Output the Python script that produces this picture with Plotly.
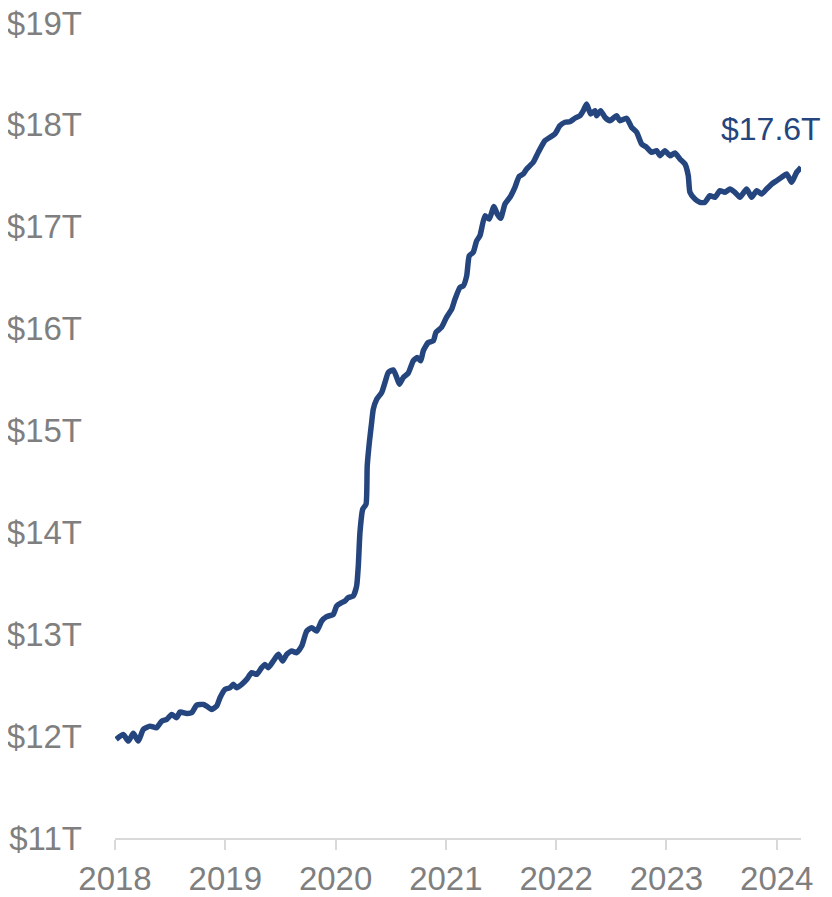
import plotly.graph_objects as go

# Decimal-year positions
years = [
    2018.01, 2018.075, 2018.121, 2018.166, 2018.211, 2018.257, 2018.317, 2018.378, 2018.423, 2018.469,
    2018.514, 2018.559, 2018.589, 2018.650, 2018.695, 2018.741, 2018.801, 2018.831, 2018.877, 2018.922,
    2018.952, 2018.997, 2019.043, 2019.073, 2019.103, 2019.149, 2019.194, 2019.239, 2019.285, 2019.330,
    2019.360, 2019.390, 2019.435, 2019.481, 2019.520, 2019.557, 2019.602, 2019.647, 2019.693, 2019.738,
    2019.783, 2019.829, 2019.874, 2019.919, 2019.979, 2020.010, 2020.055, 2020.085, 2020.115, 2020.160,
    2020.191, 2020.206, 2020.221, 2020.246, 2020.276, 2020.287, 2020.306, 2020.327, 2020.342, 2020.373,
    2020.418, 2020.448, 2020.478, 2020.523, 2020.554, 2020.578, 2020.614, 2020.659, 2020.704, 2020.741,
    2020.772, 2020.795, 2020.840, 2020.886, 2020.910, 2020.962, 2021.007, 2021.053, 2021.083, 2021.128,
    2021.158, 2021.189, 2021.212, 2021.248, 2021.279, 2021.309, 2021.354, 2021.393, 2021.436, 2021.466,
    2021.497, 2021.536, 2021.581, 2021.626, 2021.665, 2021.702, 2021.733, 2021.792, 2021.838, 2021.898,
    2021.944, 2021.989, 2022.034, 2022.080, 2022.125, 2022.170, 2022.216, 2022.246, 2022.276, 2022.313,
    2022.352, 2022.367, 2022.403, 2022.442, 2022.488, 2022.548, 2022.578, 2022.639, 2022.684, 2022.730,
    2022.775, 2022.820, 2022.866, 2022.911, 2022.941, 2022.986, 2023.032, 2023.077, 2023.122, 2023.168,
    2023.198, 2023.213, 2023.258, 2023.304, 2023.349, 2023.394, 2023.440, 2023.485, 2023.530, 2023.576,
    2023.621, 2023.666, 2023.727, 2023.772, 2023.818, 2023.863, 2023.908, 2023.954, 2023.999, 2024.044,
    2024.090, 2024.135, 2024.180, 2024.220,
]

# Deposits, trillions of dollars
deposits = [
    11.968, 12.017, 11.951, 12.027, 11.951, 12.066, 12.098, 12.083, 12.147, 12.164,
    12.213, 12.181, 12.236, 12.223, 12.230, 12.305, 12.311, 12.295, 12.262, 12.295,
    12.377, 12.459, 12.475, 12.508, 12.475, 12.508, 12.557, 12.623, 12.606, 12.672,
    12.704, 12.672, 12.737, 12.803, 12.737, 12.803, 12.835, 12.819, 12.884, 13.031,
    13.065, 13.031, 13.130, 13.173, 13.195, 13.277, 13.310, 13.326, 13.360, 13.375,
    13.474, 13.670, 13.998, 14.227, 14.276, 14.652, 14.882, 15.079, 15.209, 15.307,
    15.373, 15.472, 15.570, 15.595, 15.521, 15.455, 15.521, 15.563, 15.684, 15.717,
    15.684, 15.782, 15.864, 15.880, 15.963, 16.015, 16.113, 16.192, 16.290, 16.405,
    16.420, 16.519, 16.715, 16.749, 16.862, 16.912, 17.108, 17.076, 17.200, 17.125,
    17.083, 17.223, 17.289, 17.387, 17.495, 17.518, 17.567, 17.633, 17.731, 17.845,
    17.878, 17.911, 17.992, 18.026, 18.031, 18.065, 18.090, 18.139, 18.205, 18.107,
    18.139, 18.090, 18.139, 18.075, 18.041, 18.090, 18.041, 18.065, 17.976, 17.927,
    17.812, 17.780, 17.731, 17.747, 17.697, 17.747, 17.697, 17.724, 17.665, 17.616,
    17.501, 17.338, 17.272, 17.240, 17.240, 17.305, 17.289, 17.354, 17.338, 17.370,
    17.338, 17.289, 17.370, 17.289, 17.354, 17.321, 17.370, 17.419, 17.452, 17.485,
    17.518, 17.436, 17.534, 17.583,
]

year_ticks = [2018, 2019, 2020, 2021, 2022, 2023, 2024]
year_labels = ["2018", "2019", "2020", "2021", "2022", "2023", "2024"]
y_ticks = [11, 12, 13, 14, 15, 16, 17, 18, 19]
y_labels = ["$11T", "$12T", "$13T", "$14T", "$15T", "$16T", "$17T", "$18T", "$19T"]
end_label = "$17.6T"

LINE = "#25457E"
GREY = "#7F7F7F"
FONT = "Liberation Sans, Arial, sans-serif"

fig = go.Figure()
fig.add_trace(go.Scatter(
    x=years, y=deposits, mode="lines",
    line=dict(color=LINE, width=5.5, shape="spline", smoothing=0.5),
    hoverinfo="skip", showlegend=False,
))

fig.add_annotation(
    x=2023.95, y=17.96, text=end_label, showarrow=False,
    font=dict(family=FONT, size=32, color=LINE),
    xanchor="center", yanchor="middle",
)

# The page body adds an 8px margin, so the figure is sized to end at the window edge.
fig.update_layout(
    width=824, height=889,
    margin=dict(l=107, r=31, t=15, b=59, pad=0, autoexpand=False),
    paper_bgcolor="white", plot_bgcolor="white",
    font=dict(family=FONT, size=33, color=GREY),
    showlegend=False,
)
fig.update_xaxes(
    range=[2018, 2024.22], automargin=False,
    tickvals=year_ticks, ticktext=year_labels,
    showgrid=False, zeroline=False,
    showline=True, linecolor="#D9D9D9", linewidth=2,
    ticks="outside", ticklen=10, tickwidth=2, tickcolor="#D9D9D9",
    tickfont=dict(family=FONT, size=33, color=GREY),
    ticklabeloverflow="allow",
)
fig.update_yaxes(
    range=[11, 19], automargin=False,
    tickvals=y_ticks, ticktext=y_labels,
    showgrid=False, zeroline=False, showline=False,
    ticks="", ticklabelstandoff=32,
    tickfont=dict(family=FONT, size=33, color=GREY),
    ticklabeloverflow="allow",
)

fig.write_html("out.html")
